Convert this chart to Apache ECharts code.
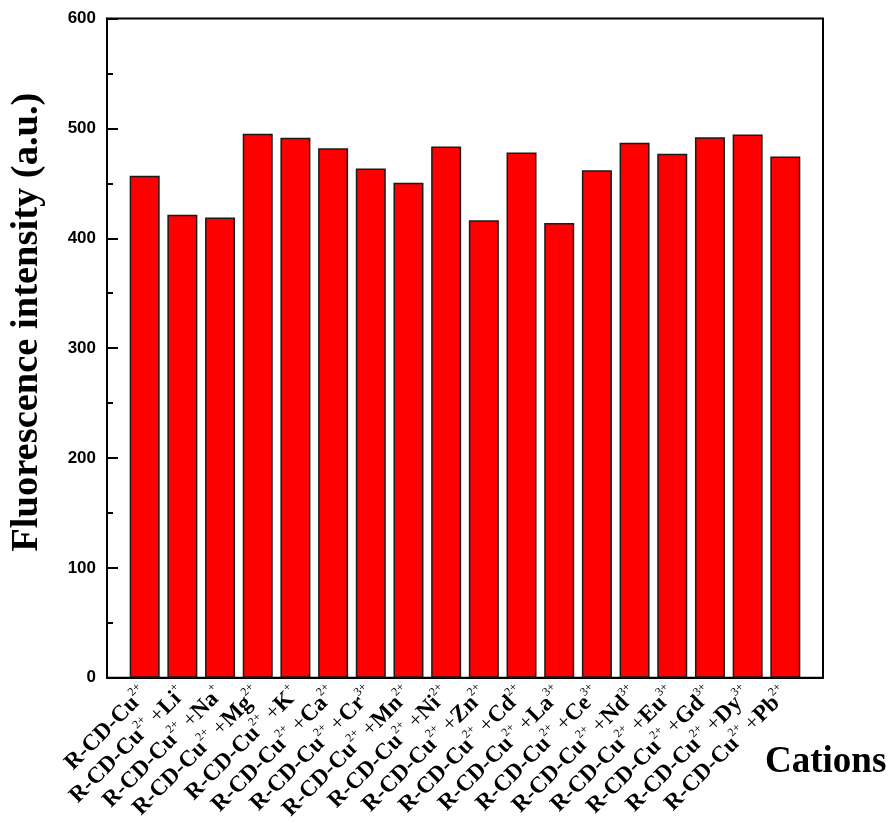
<!DOCTYPE html>
<html>
<head>
<meta charset="utf-8">
<script src="https://cdn.jsdelivr.net/npm/echarts@6/dist/echarts.min.js"></script>
<style>html,body{margin:0;padding:0;background:#fff;}#chart{width:892px;height:823px;}</style>
</head>
<body>
<div id="chart"></div>
<script>
// Added ions (first is the R-CD-Cu2+ probe alone) and their charges
const ions = ['', 'Li', 'Na', 'Mg', 'K', 'Ca', 'Cr', 'Mn', 'Ni', 'Zn', 'Cd', 'La', 'Ce', 'Nd', 'Eu', 'Gd', 'Dy', 'Pb'];
const charges = ['', '+', '+', '2+', '+', '2+', '3+', '2+', '2+', '2+', '2+', '3+', '3+', '3+', '3+', '3+', '3+', '2+'];
const categories = ions.map((ion, i) => ion ? 'R-CD-Cu2+ +' + ion + charges[i] : 'R-CD-Cu2+');
const intensity = [457, 421.5, 419, 495, 491.5, 482, 463.5, 450.5, 483.5, 416.5, 478, 414, 462, 487, 477, 492, 494.5, 474.5];
const yTicks = [0, 100, 200, 300, 400, 500, 600];

const serif = '"Liberation Serif", "Times New Roman", serif';
const chart = echarts.init(document.getElementById('chart'));
chart.setOption({
  animation: false,
  backgroundColor: '#fff',
  grid: { left: 106, right: 69, top: 18.5, bottom: 143, show: true, borderColor: '#000', borderWidth: 2, backgroundColor: 'transparent' },
  xAxis: {
    type: 'value', min: 0, max: categories.length + 1, interval: 1,
    splitLine: { show: false },
    axisTick: { show: false },
    axisLine: { show: true, lineStyle: { color: '#000', width: 2 } },
    axisLabel: {
      rotate: 45, margin: 13, interval: 0,
      formatter: function (v) {
        const i = Math.round(v) - 1;
        if (i < 0 || i >= categories.length) return '';
        let s = '{b|R-CD-Cu}{sup|2+}';
        if (ions[i]) s += '{p| +}{b|' + ions[i] + '}{sup|' + charges[i] + '}';
        return s;
      },
      rich: {
        b: { fontFamily: serif, fontWeight: 'bold', fontSize: 23, color: '#000', lineHeight: 28 },
        p: { fontFamily: serif, fontWeight: 'normal', fontSize: 22, color: '#000', lineHeight: 28 },
        sup: { fontFamily: serif, fontWeight: 'normal', fontSize: 12, color: '#000', verticalAlign: 'top', lineHeight: 12 }
      }
    },
    name: 'Cations', nameLocation: 'end', nameGap: -58,
    nameTextStyle: { fontFamily: serif, fontWeight: 'bold', fontSize: 37, color: '#000', align: 'left', verticalAlign: 'top', padding: [66, 0, 0, 0] }
  },
  yAxis: {
    type: 'value', min: yTicks[0], max: yTicks[yTicks.length - 1], interval: 100,
    splitLine: { show: false },
    axisLine: { show: true, lineStyle: { color: '#000', width: 2 } },
    axisTick: { show: true, inside: true, length: 11, lineStyle: { color: '#000', width: 2 } },
    minorTick: { show: true, splitNumber: 2, length: 6, lineStyle: { color: '#000', width: 2 } },
    axisLabel: { fontFamily: '"Liberation Sans", Arial, sans-serif', fontWeight: 'bold', fontSize: 17, color: '#000', margin: 11 },
    name: 'Fluorescence intensity (a.u.)', nameLocation: 'middle', nameGap: 60,
    nameTextStyle: { fontFamily: serif, fontWeight: 'bold', fontSize: 38.5, color: '#000', padding: [0, 0, 0, 52] }
  },
  series: [{
    type: 'bar', barWidth: 30,
    data: intensity.map((v, i) => [i + 1, v]),
    itemStyle: { color: '#ff0000', borderColor: '#1a1a1a', borderWidth: 1.5 }
  }]
});
</script>
</body>
</html>
